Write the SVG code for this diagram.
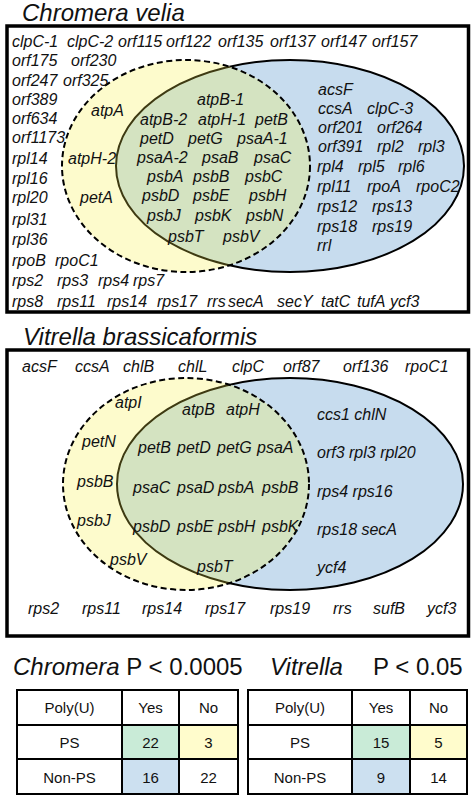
<svg xmlns="http://www.w3.org/2000/svg" width="475" height="800" viewBox="0 0 475 800">
<style>
.g{font-family:"Liberation Sans",Arial,sans-serif;font-style:italic;font-size:16px;fill:#111}
.title{font-family:"Liberation Sans",Arial,sans-serif;font-style:italic;font-size:24px;fill:#111}
.pv{font-family:"Liberation Sans",Arial,sans-serif;font-size:24px;fill:#111}
.tt{font-family:"Liberation Sans",Arial,sans-serif;font-size:15px;fill:#111;text-anchor:middle}
.box{fill:none;stroke:#000;stroke-width:3.5}
.blue{fill:#c7dcee;stroke:#000;stroke-width:2}
.yel{fill:#fdfbcc;stroke:none}
.grn{fill:#d4e3c1;stroke:#3e3a12;stroke-width:2}
.dash{fill:none;stroke:#000;stroke-width:2;stroke-dasharray:6 3.5}
.cell{stroke:#000;stroke-width:2}
</style>
<defs>
<clipPath id="clipY1"><ellipse cx="186" cy="166" rx="124" ry="106"/></clipPath>
<clipPath id="clipY2"><ellipse cx="186" cy="484" rx="123" ry="106"/></clipPath>
</defs>
<rect width="475" height="800" fill="#fff"/>

<!-- Chromera panel -->
<g id="chromera-panel">
<text class="title" x="22" y="21">Chromera velia</text>
<rect class="box" x="7" y="26" width="461.5" height="286"/>
</g>
<g id="chromera-venn">
<ellipse class="blue" cx="290" cy="166" rx="174" ry="106"/>
<ellipse class="yel" cx="186" cy="166" rx="124" ry="106"/>
<g clip-path="url(#clipY1)"><ellipse class="grn" cx="290" cy="166" rx="174" ry="106"/></g>
<ellipse class="dash" cx="186" cy="166" rx="124" ry="106"/>
</g>
<g id="chromera-outside">
<text class="g" x="12" y="47">clpC-1</text><text class="g" x="67" y="47">clpC-2</text><text class="g" x="118" y="47">orf115</text><text class="g" x="166" y="47">orf122</text><text class="g" x="218" y="47">orf135</text><text class="g" x="270" y="47">orf137</text><text class="g" x="321" y="47">orf147</text><text class="g" x="372" y="47">orf157</text>
<text class="g" x="12" y="66">orf175</text><text class="g" x="71" y="66">orf230</text>
<text class="g" x="12" y="86">orf247</text><text class="g" x="63" y="86">orf325</text>
<text class="g" x="12" y="105">orf389</text>
<text class="g" x="12" y="124">orf634</text>
<text class="g" x="12" y="143">orf1173</text>
<text class="g" x="12" y="164">rpl14</text>
<text class="g" x="12" y="184">rpl16</text>
<text class="g" x="12" y="203">rpl20</text>
<text class="g" x="12" y="225">rpl31</text>
<text class="g" x="12" y="245">rpl36</text>
<text class="g" x="12" y="266">rpoB</text><text class="g" x="55" y="266">rpoC1</text>
<text class="g" x="12" y="286">rps2</text><text class="g" x="57" y="286">rps3</text><text class="g" x="98" y="286">rps4</text><text class="g" x="133" y="286">rps7</text>
<text class="g" x="12" y="307">rps8</text><text class="g" x="57" y="307">rps11</text><text class="g" x="107" y="307">rps14</text><text class="g" x="157" y="307">rps17</text><text class="g" x="207" y="307">rrs</text><text class="g" x="228" y="307">secA</text><text class="g" x="277" y="307">secY</text><text class="g" x="321" y="307">tatC</text><text class="g" x="357" y="307">tufA</text><text class="g" x="390" y="307">ycf3</text>
</g>
<g id="chromera-yellow">
<text class="g" x="91" y="116">atpA</text>
<text class="g" x="68" y="164">atpH-2</text>
<text class="g" x="80" y="203">petA</text>
</g>
<g id="chromera-green">
<text class="g" x="197" y="105">atpB-1</text>
<text class="g" x="140" y="125">atpB-2</text><text class="g" x="198" y="125">atpH-1</text><text class="g" x="255" y="125">petB</text>
<text class="g" x="140" y="144">petD</text><text class="g" x="188" y="144">petG</text><text class="g" x="237" y="144">psaA-1</text>
<text class="g" x="137" y="163">psaA-2</text><text class="g" x="202" y="163">psaB</text><text class="g" x="254" y="163">psaC</text>
<text class="g" x="147" y="182">psbA</text><text class="g" x="193" y="182">psbB</text><text class="g" x="245" y="182">psbC</text>
<text class="g" x="142" y="201">psbD</text><text class="g" x="193" y="201">psbE</text><text class="g" x="249" y="201">psbH</text>
<text class="g" x="147" y="221">psbJ</text><text class="g" x="195" y="221">psbK</text><text class="g" x="246" y="221">psbN</text>
<text class="g" x="168" y="242">psbT</text><text class="g" x="223" y="242">psbV</text>
</g>
<g id="chromera-blue">
<text class="g" x="318" y="95">acsF</text>
<text class="g" x="318" y="114">ccsA</text><text class="g" x="367" y="114">clpC-3</text>
<text class="g" x="318" y="133">orf201</text><text class="g" x="377" y="133">orf264</text>
<text class="g" x="318" y="152">orf391</text><text class="g" x="377" y="152">rpl2</text><text class="g" x="418" y="152">rpl3</text>
<text class="g" x="317" y="172">rpl4</text><text class="g" x="358" y="172">rpl5</text><text class="g" x="398" y="172">rpl6</text>
<text class="g" x="317" y="192">rpl11</text><text class="g" x="367" y="192">rpoA</text><text class="g" x="416" y="192">rpoC2</text>
<text class="g" x="317" y="212">rps12</text><text class="g" x="372" y="212">rps13</text>
<text class="g" x="317" y="232">rps18</text><text class="g" x="372" y="232">rps19</text>
<text class="g" x="317" y="251">rrl</text>
</g>

<!-- Vitrella panel -->
<g id="vitrella-panel">
<text class="title" x="23" y="345">Vitrella brassicaformis</text>
<rect class="box" x="7" y="350" width="461.5" height="286"/>
</g>
<g id="vitrella-venn">
<ellipse class="blue" cx="290" cy="484" rx="173" ry="106"/>
<ellipse class="yel" cx="186" cy="484" rx="123" ry="106"/>
<g clip-path="url(#clipY2)"><ellipse class="grn" cx="290" cy="484" rx="173" ry="106"/></g>
<ellipse class="dash" cx="186" cy="484" rx="123" ry="106"/>
</g>
<g id="vitrella-outside">
<text class="g" x="22" y="372">acsF</text><text class="g" x="75" y="372">ccsA</text><text class="g" x="123" y="372">chlB</text><text class="g" x="178" y="372">chlL</text><text class="g" x="232" y="372">clpC</text><text class="g" x="283" y="372">orf87</text><text class="g" x="343" y="372">orf136</text><text class="g" x="405" y="372">rpoC1</text>
<text class="g" x="28" y="614">rps2</text><text class="g" x="82" y="614">rps11</text><text class="g" x="142" y="614">rps14</text><text class="g" x="205" y="614">rps17</text><text class="g" x="270" y="614">rps19</text><text class="g" x="333" y="614">rrs</text><text class="g" x="373" y="614">sufB</text><text class="g" x="427" y="614">ycf3</text>
</g>
<g id="vitrella-yellow">
<text class="g" x="115" y="408">atpI</text>
<text class="g" x="82" y="447">petN</text>
<text class="g" x="77" y="487">psbB</text>
<text class="g" x="77" y="526">psbJ</text>
<text class="g" x="110" y="565">psbV</text>
</g>
<g id="vitrella-green">
<text class="g" x="182" y="415">atpB</text><text class="g" x="226" y="415">atpH</text>
<text class="g" x="138" y="453">petB</text><text class="g" x="177" y="453">petD</text><text class="g" x="217" y="453">petG</text><text class="g" x="257" y="453">psaA</text>
<text class="g" x="133" y="493">psaC</text><text class="g" x="177" y="493">psaD</text><text class="g" x="218" y="493">psbA</text><text class="g" x="262" y="493">psbB</text>
<text class="g" x="133" y="532">psbD</text><text class="g" x="177" y="532">psbE</text><text class="g" x="218" y="532">psbH</text><text class="g" x="262" y="532">psbK</text>
<text class="g" x="197" y="572">psbT</text>
</g>
<g id="vitrella-blue">
<text class="g" x="317" y="420">ccs1 chlN</text>
<text class="g" x="317" y="458">orf3 rpl3 rpl20</text>
<text class="g" x="317" y="497">rps4 rps16</text>
<text class="g" x="317" y="535">rps18 secA</text>
<text class="g" x="317" y="573">ycf4</text>
</g>

<!-- Tables -->
<g id="chromera-table">
<text class="title" x="13" y="675">Chromera<tspan class="pv" font-style="normal"> P &lt; 0.0005</tspan></text>
<rect class="cell" x="17" y="690" width="105" height="35" fill="#fff"/>
<rect class="cell" x="122" y="690" width="57" height="35" fill="#fff"/>
<rect class="cell" x="179" y="690" width="59" height="35" fill="#fff"/>
<rect class="cell" x="17" y="725" width="105" height="34" fill="#fff"/>
<rect class="cell" x="122" y="725" width="57" height="34" fill="#c9ebd7"/>
<rect class="cell" x="179" y="725" width="59" height="34" fill="#fffccc"/>
<rect class="cell" x="17" y="759" width="105" height="35" fill="#fff"/>
<rect class="cell" x="122" y="759" width="57" height="35" fill="#cce0f0"/>
<rect class="cell" x="179" y="759" width="59" height="35" fill="#fff"/>
<text class="tt" x="69.5" y="713">Poly(U)</text><text class="tt" x="150.5" y="713">Yes</text><text class="tt" x="208.5" y="713">No</text>
<text class="tt" x="69.5" y="748">PS</text><text class="tt" x="150.5" y="748">22</text><text class="tt" x="208.5" y="748">3</text>
<text class="tt" x="69.5" y="783">Non-PS</text><text class="tt" x="150.5" y="783">16</text><text class="tt" x="208.5" y="783">22</text>
</g>
<g id="vitrella-table">
<text class="title" x="270" y="675">Vitrella</text>
<text class="pv" x="373" y="675">P &lt; 0.05</text>
<rect class="cell" x="248" y="690" width="104" height="35" fill="#fff"/>
<rect class="cell" x="352" y="690" width="58" height="35" fill="#fff"/>
<rect class="cell" x="410" y="690" width="57" height="35" fill="#fff"/>
<rect class="cell" x="248" y="725" width="104" height="34" fill="#fff"/>
<rect class="cell" x="352" y="725" width="58" height="34" fill="#c9ebd7"/>
<rect class="cell" x="410" y="725" width="57" height="34" fill="#fffccc"/>
<rect class="cell" x="248" y="759" width="104" height="35" fill="#fff"/>
<rect class="cell" x="352" y="759" width="58" height="35" fill="#cce0f0"/>
<rect class="cell" x="410" y="759" width="57" height="35" fill="#fff"/>
<text class="tt" x="300" y="713">Poly(U)</text><text class="tt" x="381" y="713">Yes</text><text class="tt" x="438.5" y="713">No</text>
<text class="tt" x="300" y="748">PS</text><text class="tt" x="381" y="748">15</text><text class="tt" x="438.5" y="748">5</text>
<text class="tt" x="300" y="783">Non-PS</text><text class="tt" x="381" y="783">9</text><text class="tt" x="438.5" y="783">14</text>
</g>
</svg>
